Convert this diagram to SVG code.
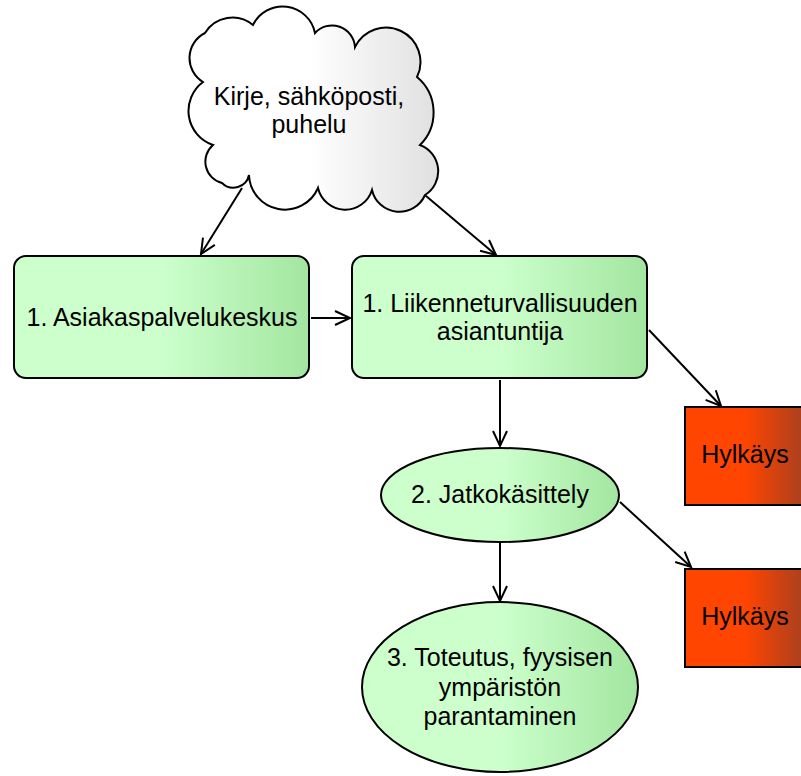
<svg xmlns="http://www.w3.org/2000/svg" width="801" height="776" viewBox="0 0 801 776">
  <defs>
    <linearGradient id="gCloud" x1="0" y1="0" x2="1" y2="0">
      <stop offset="0" stop-color="#ffffff"/>
      <stop offset="0.48" stop-color="#ffffff"/>
      <stop offset="1" stop-color="#e0e0e0"/>
    </linearGradient>
    <linearGradient id="gGreen" x1="0" y1="0" x2="1" y2="0">
      <stop offset="0" stop-color="#ccffcc"/>
      <stop offset="0.5" stop-color="#ccffcc"/>
      <stop offset="1" stop-color="#a3e6a0"/>
    </linearGradient>
    <linearGradient id="gRed" x1="0" y1="0" x2="1" y2="0">
      <stop offset="0" stop-color="#ff4500"/>
      <stop offset="0.5" stop-color="#ff4500"/>
      <stop offset="1" stop-color="#a8401f"/>
    </linearGradient>
    <marker id="arrow" markerUnits="userSpaceOnUse" markerWidth="20" markerHeight="20" viewBox="-16 -10 20 20" refX="0" refY="0" orient="auto">
      <path d="M -15 -7 L 0 0 L -15 7" fill="none" stroke="#000" stroke-width="2"/>
    </marker>
  </defs>
  <style>
    .shape { stroke: #000; stroke-width: 2; }
    .lbl { font-family: "Liberation Sans", Arial, sans-serif; font-size: 25px; fill: #000; text-anchor: middle; }
    .edge { fill: none; stroke: #000; stroke-width: 2; marker-end: url(#arrow); }
  </style>
  <rect width="801" height="776" fill="#ffffff"/>

  <!-- connectors -->
  <g id="connectors">
    <line class="edge" x1="242" y1="188" x2="201" y2="254"/>
    <line class="edge" x1="413" y1="185" x2="496" y2="255"/>
    <line class="edge" x1="311" y1="318" x2="350" y2="318"/>
    <line class="edge" x1="500" y1="380" x2="500" y2="446"/>
    <line class="edge" x1="649" y1="330" x2="721" y2="406"/>
    <line class="edge" x1="620" y1="502" x2="691" y2="567"/>
    <line class="edge" x1="500" y1="543" x2="500" y2="601"/>
  </g>

  <!-- source cloud -->
  <g id="cloud">
    <path class="shape" fill="url(#gCloud)" d="M 205 33
      A 32 32 0 0 1 253 25
      A 33 33 0 0 1 315 33
      A 23 23 0 0 1 355 47
      A 34 34 0 0 1 417 77
      A 46 46 0 0 1 420 145
      A 28 28 0 0 1 425 195
      A 28 28 0 0 1 372 190
      A 28 28 0 0 1 318 188
      A 36 36 0 0 1 249 175
      A 16 16 0 0 1 222 183
      A 22 22 0 0 1 213 145
      A 36 36 0 0 1 203 82
      A 28 28 0 0 1 205 33 Z"/>
    <text class="lbl" x="309" y="105">Kirje, sähköposti,</text>
    <text class="lbl" x="309" y="133">puhelu</text>
  </g>

  <g id="asiakaspalvelu">
    <rect class="shape" fill="url(#gGreen)" x="14" y="256" width="295" height="122" rx="12" ry="12"/>
    <text class="lbl" x="162" y="326">1. Asiakaspalvelukeskus</text>
  </g>

  <g id="asiantuntija">
    <rect class="shape" fill="url(#gGreen)" x="352" y="256" width="295" height="122" rx="12" ry="12"/>
    <text class="lbl" x="500" y="312">1. Liikenneturvallisuuden</text>
    <text class="lbl" x="500" y="340">asiantuntija</text>
  </g>

  <g id="hylkays1">
    <rect class="shape" fill="url(#gRed)" x="685" y="407" width="120" height="98"/>
    <text class="lbl" x="745" y="463">Hylkäys</text>
  </g>

  <g id="jatkokasittely">
    <ellipse class="shape" fill="url(#gGreen)" cx="500" cy="495" rx="119" ry="47"/>
    <text class="lbl" x="500" y="503">2. Jatkokäsittely</text>
  </g>

  <g id="hylkays2">
    <rect class="shape" fill="url(#gRed)" x="685" y="569" width="120" height="98"/>
    <text class="lbl" x="745" y="625">Hylkäys</text>
  </g>

  <g id="toteutus">
    <ellipse class="shape" fill="url(#gGreen)" cx="500" cy="687" rx="138" ry="85"/>
    <text class="lbl" x="500" y="666">3. Toteutus, fyysisen</text>
    <text class="lbl" x="500" y="696">ympäristön</text>
    <text class="lbl" x="500" y="725">parantaminen</text>
  </g>
</svg>
